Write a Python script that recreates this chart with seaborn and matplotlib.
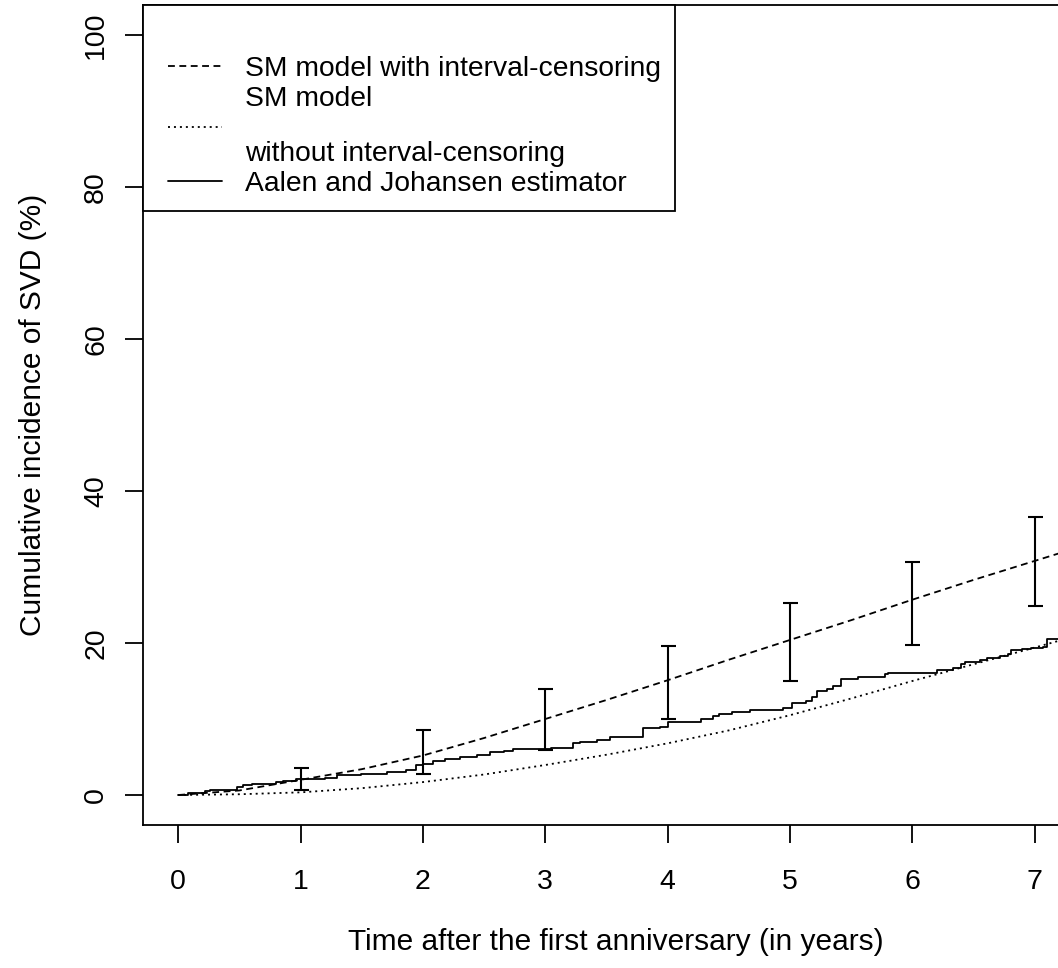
import matplotlib
matplotlib.use("Agg")
import matplotlib.pyplot as plt
from matplotlib.lines import Line2D
from matplotlib.legend_handler import HandlerLine2D
import seaborn as sns

# SM model curves (cumulative incidence in %), read at half-year steps
sm_time = [0, 0.5, 1, 1.5, 2, 2.5, 3, 3.5, 4, 4.5, 5, 5.5, 6, 6.5, 7, 7.2]
sm_with_ic = [0, 0.6, 2.0, 3.4, 5.2, 7.5, 10.0, 12.5, 15.1, 17.8, 20.4, 23.0, 25.7, 28.3, 30.8, 31.8]
sm_without_ic = [0, 0.1, 0.35, 0.9, 1.7, 2.7, 3.95, 5.3, 6.8, 8.5, 10.5, 12.7, 15.0, 17.2, 19.4, 20.3]

# Aalen-Johansen estimate: jump times and value after each jump
aj_time = [0, 0.08, 0.13, 0.22, 0.26, 0.48, 0.53, 0.60, 0.80, 0.86,
           0.96, 1.20, 1.30, 1.49, 1.71, 1.86, 1.94, 2.00, 2.08, 2.18,
           2.30, 2.44, 2.55, 2.66, 2.74, 3.05, 3.23, 3.28, 3.42, 3.53,
           3.80, 3.94, 4.00, 4.27, 4.37, 4.42, 4.53, 4.67, 4.94, 5.02,
           5.13, 5.18, 5.22, 5.30, 5.35, 5.42, 5.56, 5.78, 5.80, 6.20,
           6.33, 6.40, 6.43, 6.55, 6.61, 6.72, 6.78, 6.81, 6.90, 6.97,
           7.07, 7.10, 7.20]
aj_cif = [0, 0.2, 0.3, 0.5, 0.66, 1.0, 1.3, 1.5, 1.7, 1.9,
          2.1, 2.3, 2.6, 2.8, 3.0, 3.3, 3.9, 4.1, 4.5, 4.75,
          5.0, 5.3, 5.6, 5.75, 6.05, 6.2, 6.8, 7.0, 7.2, 7.6,
          8.8, 9.0, 9.6, 10.0, 10.4, 10.6, 10.9, 11.2, 11.5, 12.1,
          12.4, 12.9, 13.7, 14.0, 14.4, 15.3, 15.5, 15.9, 16.1, 16.4,
          16.7, 17.3, 17.5, 17.8, 18.0, 18.3, 18.6, 19.1, 19.2, 19.3,
          19.5, 20.5, 20.5]

# yearly intervals of the SM model with interval-censoring
ci_time = [1, 2, 3, 4, 5, 6, 7]
ci_low = [0.6, 2.7, 5.9, 10.0, 15.0, 19.7, 24.9]
ci_high = [3.6, 8.55, 14.0, 19.6, 25.3, 30.7, 36.6]

labels = ["SM model with interval-censoring",
          "SM model\nwithout interval-censoring",
          "Aalen and Johansen estimator"]
x_ticks = [0, 1, 2, 3, 4, 5, 6, 7]
y_ticks = [0, 20, 40, 60, 80, 100]

sns.set_style("ticks")
plt.rcParams['font.family'] = ['Liberation Sans', 'DejaVu Sans']
plt.rcParams['text.color'] = 'black'
fs = 20.5       # tick labels
fs_lab = 21.5   # axis titles
fs_leg = 20.3   # legend
lw = 1.3

fig = plt.figure(figsize=(10.58, 9.68), dpi=100)
# plot region runs past the right edge, as in the original export
ax = fig.add_axes([0.1354, 0.1473, 0.8929, 0.8479])

sns.lineplot(x=sm_time, y=sm_with_ic, ax=ax, color='black', lw=lw,
             linestyle=(0, (3.8, 2.5)), errorbar=None, label=labels[0])
sns.lineplot(x=sm_time, y=sm_without_ic, ax=ax, color='black', lw=lw,
             linestyle=(0, (1.1, 2.2)), errorbar=None, label=labels[1])
sns.lineplot(x=aj_time, y=aj_cif, ax=ax, color='black', lw=lw,
             drawstyle='steps-post', errorbar=None, label=labels[2])

mid = [(lo + hi) / 2 for lo, hi in zip(ci_low, ci_high)]
err = [[m - lo for m, lo in zip(mid, ci_low)], [hi - m for m, hi in zip(mid, ci_high)]]
ax.errorbar(ci_time, mid, yerr=err, fmt='none', ecolor='black',
            elinewidth=1.5, capsize=5.4, capthick=1.5)

ax.set_xlim(-0.286, 7.436)
ax.set_ylim(-4, 104)
ax.set_xticks(x_ticks)
ax.set_yticks(y_ticks)
ax.tick_params(axis='both', length=13, width=lw, labelsize=fs,
               color='black', labelcolor='black')
ax.tick_params(axis='x', pad=18.7)
ax.tick_params(axis='y', pad=11.5, labelrotation=90)
for t in ax.get_yticklabels():
    t.set_va('center')

ax.set_xlabel("Time after the first anniversary (in years)", fontsize=fs_lab, color='black')
ax.xaxis.set_label_coords(0.5, -0.1244)
ax.set_ylabel("Cumulative incidence of SVD (%)", fontsize=fs_lab, color='black')
ax.yaxis.set_label_coords(-0.102, 0.5)

for s in ax.spines.values():
    s.set_linewidth(lw)
    s.set_color('black')

leg = ax.legend(loc='upper left', bbox_to_anchor=(0, 1), borderaxespad=0,
                fontsize=fs_leg, title=' ', title_fontsize=25.5,
                frameon=True, fancybox=False, framealpha=1, edgecolor='black',
                labelcolor='black',
                borderpad=0.5, handlelength=2.28, handletextpad=0.83,
                labelspacing=0.15,
                handler_map={Line2D: HandlerLine2D(xpad=0.37)})
leg.get_frame().set_linewidth(lw)
leg.get_texts()[1].set_linespacing(2.43)

fig.savefig("out.png", dpi=100, facecolor='white')
